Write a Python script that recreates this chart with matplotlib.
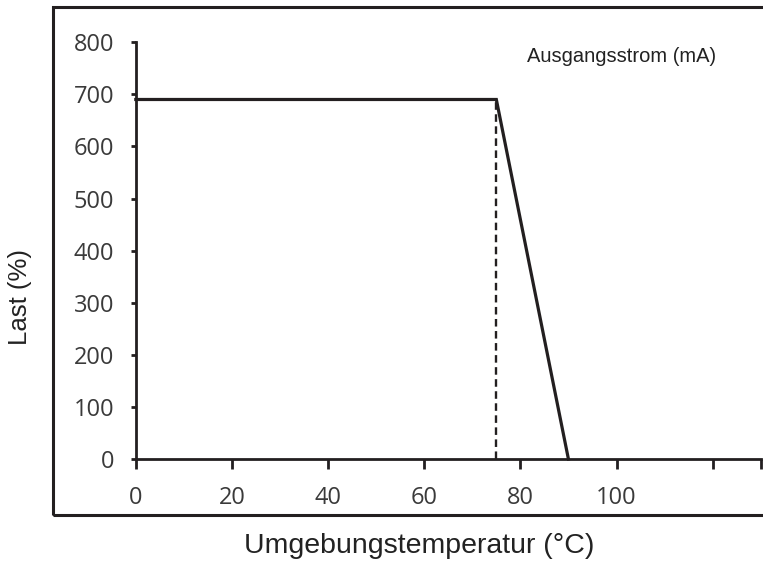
import matplotlib
matplotlib.use('Agg')
import matplotlib.pyplot as plt
from matplotlib.patches import Rectangle

# derating curve
temp = [0, 75, 90]
load = [690, 690, 0]
dash_x = [75, 75]
dash_y = [0, 690]

xticks = [0, 20, 40, 60, 80, 100, 120, 130]
xlabels = ['0', '20', '40', '60', '80', '100', '', '']
yticks = [0, 100, 200, 300, 400, 500, 600, 700, 800]

ink = '#231f20'

fig = plt.figure(figsize=(7.63, 5.62), dpi=100)

# outer frame (runs off the right edge)
fig.patches.append(Rectangle((53 / 763, 47 / 562), 1.2, 508 / 562, transform=fig.transFigure,
                             fill=False, edgecolor=ink, linewidth=2.2, clip_on=False))

ax = fig.add_axes([0.178, 0.183, 0.819, 0.742])
ax.plot(temp, load, color=ink, lw=2.3, solid_joinstyle='miter', clip_on=False)
ax.plot(dash_x, dash_y, color=ink, lw=1.7, dashes=(3.2, 1.9))

ax.set_xlim(0, 130)
ax.set_ylim(0, 800)
ax.spines['top'].set_visible(False)
ax.spines['right'].set_visible(False)
for s in ['left', 'bottom']:
    ax.spines[s].set_color(ink)
    ax.spines[s].set_linewidth(2.0)

ax.set_xticks(xticks)
ax.set_xticklabels(xlabels)
ax.set_yticks(yticks)
ax.tick_params(axis='x', direction='out', length=7, width=2, color=ink, pad=12,
               labelsize=17, labelcolor='#3a3a3a')
ax.tick_params(axis='y', direction='out', length=3.5, width=2, color=ink, pad=12,
               labelsize=17, labelcolor='#3a3a3a')
for lab in ax.get_xticklabels() + ax.get_yticklabels():
    lab.set_family('Open Sans')

fig.text(527 / 763, 1 - 57 / 562, 'Ausgangsstrom (mA)', family='Liberation Sans',
         fontsize=14.5, color='#222222', va='center', ha='left')
fig.text(419 / 763, 1 - 546 / 562, 'Umgebungstemperatur (°C)', family='Liberation Sans',
         fontsize=20.5, color='#222222', va='center', ha='center')
fig.text(20 / 763, 1 - 297 / 562, 'Last (%)', family='Liberation Sans',
         fontsize=18.5, color='#222222', va='center', ha='center', rotation=90)

fig.savefig('out.png', dpi=100)
